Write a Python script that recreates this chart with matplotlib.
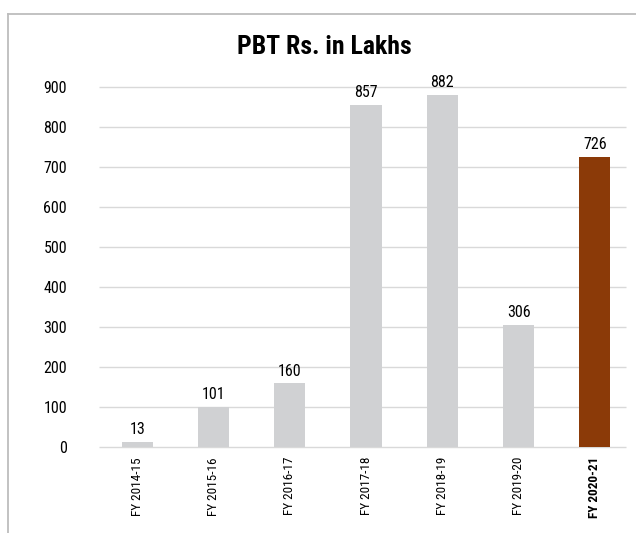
import matplotlib.pyplot as plt
from matplotlib.lines import Line2D

# data
years = ['FY 2014-15', 'FY 2015-16', 'FY 2016-17', 'FY 2017-18',
         'FY 2018-19', 'FY 2019-20', 'FY 2020-21']
pbt = [13, 101, 160, 857, 882, 306, 726]
bar_colors = ['#d0d1d3'] * 6 + ['#8b3a08']

plt.rcParams['font.family'] = ['Roboto Condensed', 'DejaVu Sans']

W, H = 636, 533
fig = plt.figure(figsize=(W / 100, H / 100), dpi=100)
# axes box in pixels: left 99, right 633, top 87 (=900), bottom 447 (=0)
ax = fig.add_axes([99 / W, 1 - 447.3 / H, 534 / W, 360 / H])

ax.bar(range(len(years)), pbt, width=0.41, color=bar_colors, zorder=2)
for i, v in enumerate(pbt):
    ax.annotate(str(v), (i, v), xytext=(0, 5.5), textcoords='offset points',
                ha='center', va='baseline', fontsize=11.5)

ax.set_xlim(-0.5, len(years) - 0.5)
ax.set_ylim(0, 900)
ax.set_yticks(range(0, 901, 100))
# gridlines stop a little short of the right edge
grid_end = -0.5 + (626 - 99) / 534 * len(years)
ax.hlines(range(0, 901, 100), -0.5, grid_end, color='#d9d9d9', linewidth=1, zorder=0,
          clip_on=False)
ax.tick_params(axis='y', length=0, labelsize=11.5, pad=23)
ax.tick_params(axis='x', length=0, labelsize=9.5, pad=7)
ax.set_xticks(range(len(years)))
ax.set_xticklabels(years, rotation=90)
ax.get_xticklabels()[-1].set_fontweight('bold')
for s in ax.spines.values():
    s.set_visible(False)

fig.text(324 / W, 1 - 46.5 / H, 'PBT Rs. in Lakhs', ha='center', va='center',
         fontsize=18.5, fontweight='bold')

# outer frame (left and top)
fig.add_artist(Line2D([8 / W, 8 / W], [0, 1 - 13.5 / H], color='#bdbdbd', linewidth=1.3))
fig.add_artist(Line2D([8 / W, 1], [1 - 13.5 / H, 1 - 13.5 / H], color='#bdbdbd', linewidth=1.3))

fig.savefig('out.png', dpi=100)
